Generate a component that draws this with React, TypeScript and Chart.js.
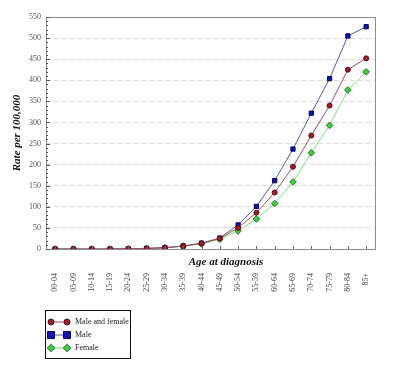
import React, { useEffect, useRef } from 'react';
import { Chart, registerables } from 'chart.js';

Chart.register(...registerables);

const categories = ['00-04', '05-09', '10-14', '15-19', '20-24', '25-29', '30-34', '35-39', '40-44', '45-49', '50-54', '55-59', '60-64', '65-69', '70-74', '75-79', '80-84', '85+'];
const maleAndFemale = [0, 0, 0, 0, 0.5, 1.5, 3, 7, 13, 25, 50, 86, 134, 195, 269, 340, 425, 452];
const male = [0, 0, 0, 0, 0.5, 1.5, 3, 7, 14, 26, 57, 101, 162, 237, 322, 404, 505, 527];
const female = [0, 0, 0, 0, 0.5, 1, 3, 7, 12, 23, 43, 71, 108, 159, 228, 293, 377, 420];
const seriesLabels = ['Male and female', 'Male', 'Female'];
const yMin = 0;
const yMax = 550;
const yStep = 50;
const yMinorStep = 10;
const yTitle = 'Rate per 100,000';
const xTitle = 'Age at diagnosis';

const SERIF = '"Liberation Serif", "DejaVu Serif", serif';

const framePlugin = {
  id: 'frame',
  afterDatasetsDraw(chart: any) {
    const { ctx, chartArea: a, scales } = chart;
    ctx.save();
    ctx.strokeStyle = '#8c8c8c';
    ctx.lineWidth = 1;
    ctx.strokeRect(Math.round(a.left) + 0.5, Math.round(a.top) + 0.5, Math.round(a.right - a.left), Math.round(a.bottom - a.top));
    const y = scales.y;
    ctx.strokeStyle = '#555';
    for (let v = yMin; v <= yMax; v += yMinorStep) {
      const py = Math.round(y.getPixelForValue(v)) + 0.5;
      const len = v % yStep === 0 ? 4 : 2;
      ctx.beginPath();
      ctx.moveTo(a.left, py);
      ctx.lineTo(a.left + len, py);
      ctx.stroke();
    }
    const x = scales.x;
    ctx.strokeStyle = '#666';
    for (let i = 0; i < categories.length; i++) {
      const px = Math.round(x.getPixelForValue(i)) + 0.5;
      ctx.beginPath();
      ctx.moveTo(px, a.bottom);
      ctx.lineTo(px, a.bottom - 3);
      ctx.stroke();
    }
    ctx.restore();
  },
  afterDraw(chart: any) {
    const { ctx, chartArea: a } = chart;
    ctx.save();
    ctx.font = `italic bold 11px ${SERIF}`;
    ctx.fillStyle = '#111';
    ctx.textAlign = 'center';
    ctx.textBaseline = 'middle';
    ctx.fillText(xTitle, 226, a.bottom + 13);

    const bx = 45.5, by = 310.5, bw = 85, bh = 48;
    ctx.fillStyle = '#fff';
    ctx.fillRect(bx, by, bw, bh);
    ctx.strokeStyle = '#111';
    ctx.lineWidth = 1;
    ctx.strokeRect(bx, by, bw, bh);
    const rows = [322, 335, 348];
    chart.data.datasets.forEach((ds: any, i: number) => {
      const ry = rows[i];
      ctx.strokeStyle = ds.borderColor;
      ctx.lineWidth = 1;
      ctx.beginPath();
      ctx.moveTo(51, ry);
      ctx.lineTo(67, ry);
      ctx.stroke();
      [51, 67].forEach((mx) => {
        ctx.fillStyle = ds.pointBackgroundColor;
        ctx.strokeStyle = ds.pointBorderColor;
        ctx.beginPath();
        const r = ds.pointRadius + 0.5;
        if (ds.pointStyle === 'rect') {
          ctx.rect(mx - r, ry - r, 2 * r, 2 * r);
        } else if (ds.pointStyle === 'rectRot') {
          ctx.moveTo(mx, ry - r);
          ctx.lineTo(mx + r, ry);
          ctx.lineTo(mx, ry + r);
          ctx.lineTo(mx - r, ry);
          ctx.closePath();
        } else {
          ctx.arc(mx, ry, r, 0, Math.PI * 2);
        }
        ctx.fill();
        ctx.stroke();
      });
      ctx.fillStyle = '#222';
      ctx.font = `8px ${SERIF}`;
      ctx.textAlign = 'left';
      ctx.textBaseline = 'middle';
      ctx.fillText(ds.label, 75, ry);
    });
    ctx.restore();
  },
};

export default function App() {
  const ref = useRef<HTMLCanvasElement>(null);
  useEffect(() => {
    document.body.style.margin = '0';
    const canvas = ref.current;
    if (!canvas) return;
    const chart = new Chart(canvas, {
      type: 'line',
      data: {
        labels: categories,
        datasets: [
          {
            label: seriesLabels[0],
            data: maleAndFemale,
            borderColor: '#a0505e',
            backgroundColor: '#a31c2c',
            pointBackgroundColor: '#a31c2c',
            pointBorderColor: '#5a0c14',
            pointStyle: 'circle',
            pointRadius: 2.5,
            borderWidth: 1,
            pointBorderWidth: 1,
            tension: 0,
          },
          {
            label: seriesLabels[1],
            data: male,
            borderColor: '#5a5a9a',
            backgroundColor: '#1414b0',
            pointBackgroundColor: '#1414b0',
            pointBorderColor: '#000060',
            pointStyle: 'rect',
            pointRadius: 3,
            borderWidth: 1,
            pointBorderWidth: 1,
            tension: 0,
          },
          {
            label: seriesLabels[2],
            data: female,
            borderColor: '#7ee07e',
            backgroundColor: '#44cc44',
            pointBackgroundColor: '#44cc44',
            pointBorderColor: '#1e7a1e',
            pointStyle: 'rectRot',
            pointRadius: 3.3,
            borderWidth: 1,
            pointBorderWidth: 1,
            tension: 0,
          },
        ],
      } as any,
      options: {
        responsive: false,
        animation: false,
        devicePixelRatio: 1,
        layout: { padding: { left: 0, right: 8, top: 17, bottom: 65 } },
        plugins: { legend: { display: false }, tooltip: { enabled: false }, title: { display: false } },
        scales: {
          x: {
            type: 'category',
            offset: true,
            grid: { display: false, drawTicks: false },
            border: { display: false },
            ticks: {
              autoSkip: false,
              minRotation: 90,
              maxRotation: 90,
              padding: 24,
              color: '#444',
              font: { family: SERIF, size: 8 },
            },
            afterFit(scale: any) {
              scale.height = 51;
            },
          },
          y: {
            min: yMin,
            max: yMax,
            grid: { color: '#dcdcdc', drawTicks: false },
            border: { display: false, dash: [5, 3] },
            ticks: {
              stepSize: yStep,
              padding: 5,
              color: '#555',
              font: { family: SERIF, size: 8 },
            },
            title: {
              display: true,
              text: yTitle,
              color: '#111',
              font: { family: SERIF, size: 11, weight: 'bold', style: 'italic' },
              padding: { top: 11, bottom: 0 },
            },
            afterFit(scale: any) {
              scale.width = 46;
            },
          },
        },
      } as any,
      plugins: [framePlugin],
    });
    return () => chart.destroy();
  }, []);
  return <canvas ref={ref} width={400} height={365} style={{ display: 'block' }} />;
}
